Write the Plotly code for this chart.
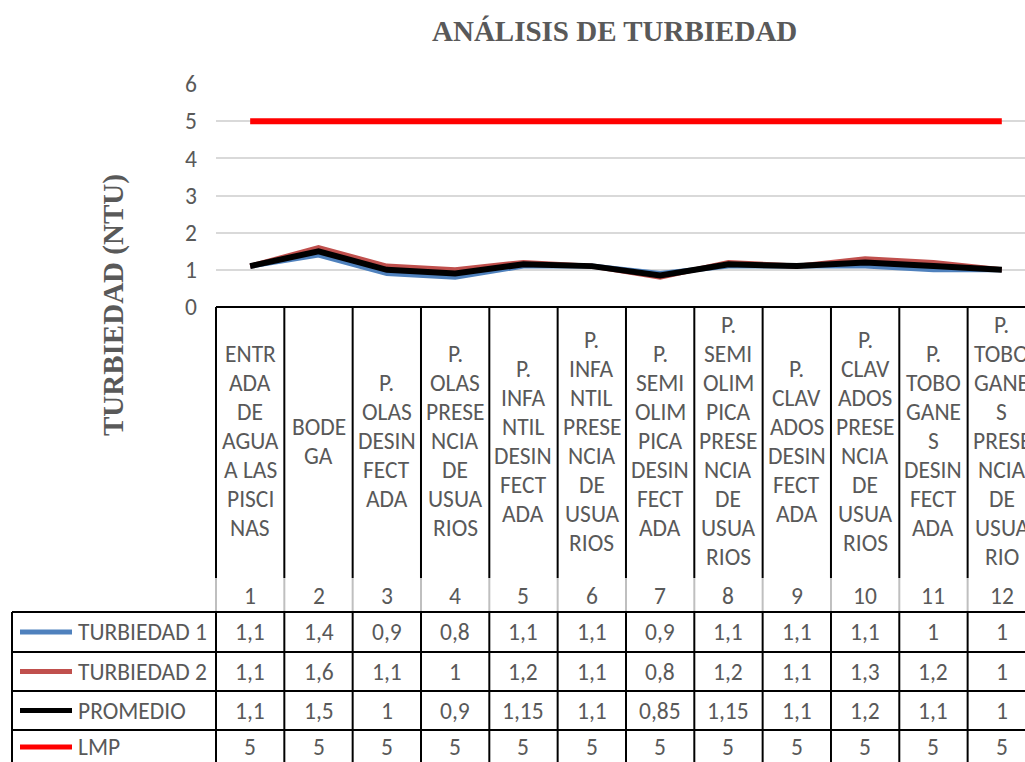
import plotly.graph_objects as go

# ---------------- data ----------------
categories = [
    "ENTR\nADA\nDE\nAGUA\nA LAS\nPISCI\nNAS",
    "BODE\nGA",
    "P.\nOLAS\nDESIN\nFECT\nADA",
    "P.\nOLAS\nPRESE\nNCIA\nDE\nUSUA\nRIOS",
    "P.\nINFA\nNTIL\nDESIN\nFECT\nADA",
    "P.\nINFA\nNTIL\nPRESE\nNCIA\nDE\nUSUA\nRIOS",
    "P.\nSEMI\nOLIM\nPICA\nDESIN\nFECT\nADA",
    "P.\nSEMI\nOLIM\nPICA\nPRESE\nNCIA\nDE\nUSUA\nRIOS",
    "P.\nCLAV\nADOS\nDESIN\nFECT\nADA",
    "P.\nCLAV\nADOS\nPRESE\nNCIA\nDE\nUSUA\nRIOS",
    "P.\nTOBO\nGANE\nS\nDESIN\nFECT\nADA",
    "P.\nTOBO\nGANE\nS\nPRESE\nNCIA\nDE\nUSUA\nRIO",
]
point_numbers = list(range(1, 13))
turbiedad_1 = [1.1, 1.4, 0.9, 0.8, 1.1, 1.1, 0.9, 1.1, 1.1, 1.1, 1, 1]
turbiedad_2 = [1.1, 1.6, 1.1, 1, 1.2, 1.1, 0.8, 1.2, 1.1, 1.3, 1.2, 1]
promedio = [1.1, 1.5, 1, 0.9, 1.15, 1.1, 0.85, 1.15, 1.1, 1.2, 1.1, 1]
lmp = [5, 5, 5, 5, 5, 5, 5, 5, 5, 5, 5, 5]
series_names = ["TURBIEDAD 1", "TURBIEDAD 2", "PROMEDIO", "LMP"]
y_ticks = [0, 1, 2, 3, 4, 5, 6]

series_values = [turbiedad_1, turbiedad_2, promedio, lmp]
series_colors = ["#4F81BD", "#C0504D", "#000000", "#FF0000"]
series_widths = [5, 5, 6, 6]

# ---------------- geometry ----------------
W, H = 1025, 762
L, T, B = 216, 84, 455
COLW = 68.33
XMIN = 0.5
XMAX = XMIN + (W - L) / COLW
PLOT_BOTTOM = H - B
PLOT_H = H - T - B

FONT = "Carlito, Lato, 'Liberation Sans', sans-serif"
GREY = "#595959"
TXT = 23.5


def py(p):
    return (PLOT_BOTTOM - p) / PLOT_H


def pxp(p):
    return (p - L) / (W - L)


def xv(v):
    return (v - XMIN) / (XMAX - XMIN)


def fmt(v):
    return f"{v:g}".replace(".", ",")


fig = go.Figure()
for name, vals, col, w in zip(series_names, series_values, series_colors, series_widths):
    fig.add_trace(go.Scatter(
        x=point_numbers, y=vals, mode="lines", name=name,
        line=dict(color=col, width=w), showlegend=False,
    ))

shapes = []
annotations = []

header_top = PLOT_BOTTOM
header_bottom = 612
row_edges = [612, 652, 691, 730, 770]
left_edge = 12

for i in range(len(point_numbers) + 1):
    xb = xv(0.5 + i)
    shapes.append(dict(type="line", xref="paper", yref="paper", x0=xb, x1=xb,
                       y0=py(header_top), y1=py(578), line=dict(color="black", width=2)))
    shapes.append(dict(type="line", xref="paper", yref="paper", x0=xb, x1=xb,
                       y0=py(578), y1=py(header_bottom), line=dict(color="#BFBFBF", width=2)))
    shapes.append(dict(type="line", xref="paper", yref="paper", x0=xb, x1=xb,
                       y0=py(header_bottom), y1=py(row_edges[-1]), line=dict(color="black", width=2)))
shapes.append(dict(type="line", xref="paper", yref="paper", x0=pxp(left_edge), x1=pxp(left_edge),
                   y0=py(header_bottom), y1=py(row_edges[-1]), line=dict(color="black", width=2)))
shapes.append(dict(type="line", xref="paper", yref="paper", x0=0, x1=1.05,
                   y0=py(header_top), y1=py(header_top), line=dict(color="black", width=2)))
for r in row_edges[:-1]:
    shapes.append(dict(type="line", xref="paper", yref="paper", x0=pxp(left_edge), x1=1.05,
                       y0=py(r), y1=py(r), line=dict(color="black", width=2)))

LINE_H = 29
LABEL_CENTER = 441
for i, lab in enumerate(categories):
    lines = lab.split("\n")
    n = len(lines)
    for k, ln in enumerate(lines):
        yp = LABEL_CENTER + (k - (n - 1) / 2) * LINE_H
        annotations.append(dict(x=point_numbers[i], xref="x", y=py(yp), yref="paper",
                                text=ln, showarrow=False, xanchor="center", yanchor="middle",
                                font=dict(family=FONT, size=TXT, color=GREY)))
    annotations.append(dict(x=point_numbers[i], xref="x", y=py(596), yref="paper",
                            text=str(point_numbers[i]), showarrow=False,
                            xanchor="center", yanchor="middle",
                            font=dict(family=FONT, size=TXT, color=GREY)))

for r, (name, vals, col) in enumerate(zip(series_names, series_values, series_colors)):
    yc = (row_edges[r] + row_edges[r + 1]) / 2 if r < 3 else 747
    shapes.append(dict(type="line", xref="paper", yref="paper", x0=pxp(20), x1=pxp(72),
                       y0=py(yc), y1=py(yc), line=dict(color=col, width=5)))
    annotations.append(dict(x=pxp(76), xref="paper", y=py(yc), yref="paper", text=name,
                            showarrow=False, xanchor="left", yanchor="middle",
                            font=dict(family=FONT, size=TXT, color=GREY)))
    for i, v in enumerate(vals):
        annotations.append(dict(x=point_numbers[i], xref="x", y=py(yc), yref="paper",
                                text=fmt(v), showarrow=False, xanchor="center", yanchor="middle",
                                font=dict(family=FONT, size=TXT, color=GREY)))

annotations.append(dict(x=pxp(614), xref="paper", y=py(31), yref="paper",
                        text="<b>ANÁLISIS DE TURBIEDAD</b>", showarrow=False,
                        xanchor="center", yanchor="middle",
                        font=dict(family="Liberation Serif, serif", size=29, color=GREY)))
annotations.append(dict(x=pxp(113), xref="paper", y=py(305), yref="paper",
                        text="<b>TURBIEDAD (NTU)</b>", showarrow=False, textangle=-90,
                        xanchor="center", yanchor="middle",
                        font=dict(family="Liberation Serif, serif", size=29, color=GREY)))

fig.update_layout(
    width=W, height=H,
    margin=dict(l=L, r=0, t=T, b=B, pad=0),
    paper_bgcolor="white", plot_bgcolor="white",
    shapes=shapes, annotations=annotations,
    xaxis=dict(range=[XMIN, XMAX], showticklabels=False, showgrid=False,
               zeroline=False, showline=False, ticks=""),
    yaxis=dict(range=[0, 6], tickvals=y_ticks, showgrid=True, gridcolor="#D9D9D9",
               gridwidth=1.5, zeroline=False, showline=False, ticks="",
               ticklabelstandoff=18,
               tickfont=dict(family=FONT, size=TXT, color=GREY)),
)

fig.write_html("out.html", config={"displayModeBar": False},
               post_script="document.body.style.margin='0';document.body.style.overflow='hidden';")
